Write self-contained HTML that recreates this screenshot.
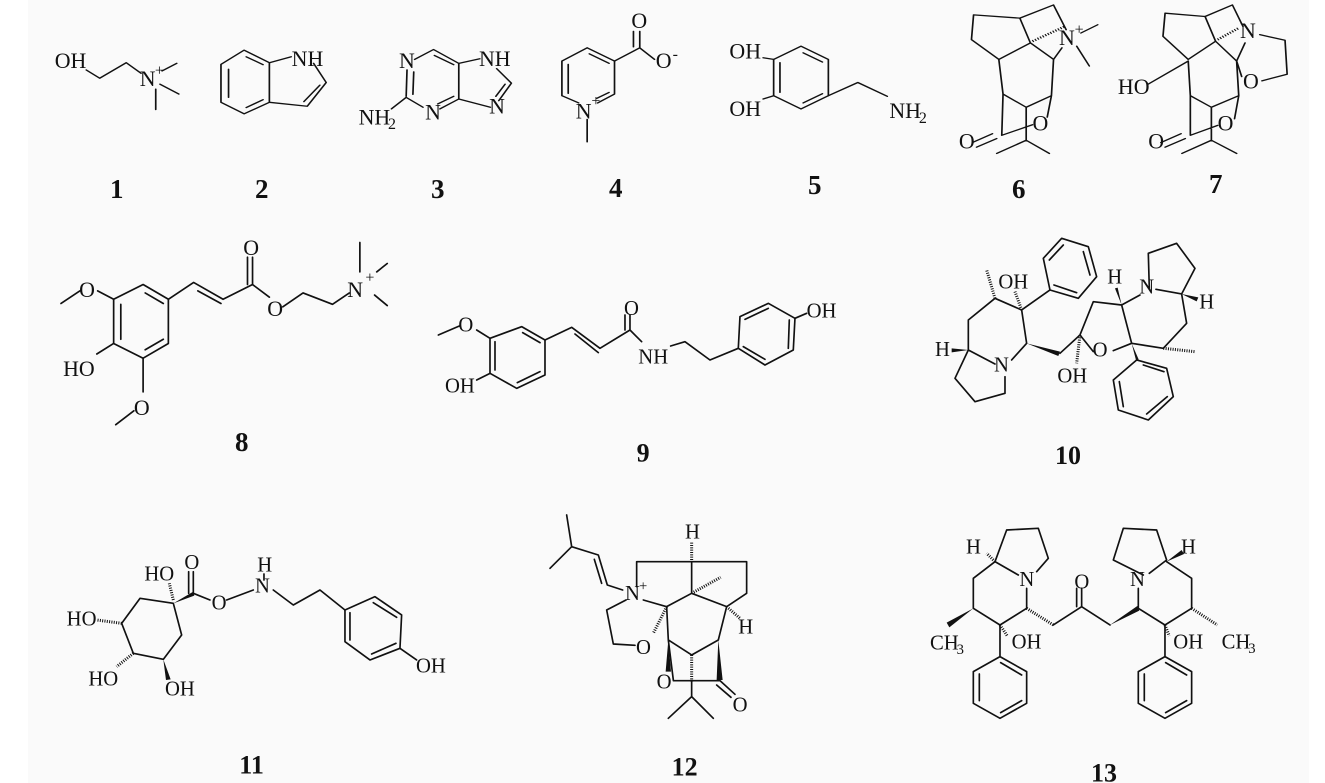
<!DOCTYPE html>
<html><head><meta charset="utf-8"><style>
html,body{margin:0;padding:0;background:#fff}
svg{display:block}
.b{stroke:#111;fill:none;stroke-linecap:round;stroke-linejoin:round}
.h{stroke:#111;fill:none;stroke-dasharray:3 4}
text{font-family:"Liberation Serif",serif;fill:#111}
.l{font-weight:bold}
</style></head><body>
<svg width="1325" height="783" viewBox="0 0 1325 783" xmlns="http://www.w3.org/2000/svg">
<rect x="0" y="0" width="1325" height="783" fill="#fff"/>
<rect x="28" y="0" width="1281" height="783" fill="#fafafa"/>

<!-- Row 1 left (zoom1 coords) -->
<g transform="scale(0.4209,0.33)">
<g class="b" stroke-width="4">
<path d="M205 212L237 237L300 190L335 222"/>
<path d="M385 215L420 192M380 255L425 285M370 270L370 332"/>
<path d="M580 152L640 190L640 310L580 345L525 310L525 195Z"/>
<path d="M543 210L543 295M585 172L625 196M585 326L625 302"/>
<path d="M640 190L692 172M745 192L775 250L730 322L640 310M760 258L722 308"/>
<path d="M967 212L965 292M983 218L981 286M965 295L930 330M965 295L1005 325M1045 330L1090 300M1040 315L1078 292M1090 300L1090 192L1030 150L985 180M1032 168L1078 196"/>
<path d="M1090 192L1140 178M1180 208L1215 252L1185 305M1200 255L1178 292M1165 325L1090 300"/>
<path d="M1395 145L1460 185L1460 285L1420 312M1375 312L1335 290L1335 185L1395 145"/>
<path d="M1350 195L1350 283M1400 163L1447 192M1447 280L1418 298"/>
<path d="M1460 185L1520 145L1520 95M1505 142L1505 95M1520 145L1555 180M1395 362L1395 430"/>
</g>
<g font-size="52" transform="scale(1,1.2755)">
<text x="130" y="162">OH</text>
<text x="332" y="204">N</text><text x="368" y="179" font-size="38">+</text>
<text x="693" y="157">NH</text>
<text x="948" y="162">N</text>
<text x="852" y="296">NH</text><text x="922" y="307" font-size="38">2</text>
<text x="1010" y="284">N</text>
<text x="1138" y="157">NH</text>
<text x="1162" y="270">N</text>
<text x="1368" y="281">N</text><text x="1405" y="252" font-size="38">+</text>
<text x="1500" y="67">O</text>
</g>
</g>

<!-- Row 1 right (zoom2 coords) -->
<g transform="translate(660,0) scale(0.4209,0.33)">
<g class="b" stroke-width="4">
<path d="M335 140L400 180L400 290L335 330L270 290L270 180Z"/>
<path d="M285 190L285 280M340 160L386 188M340 312L386 284"/>
<path d="M245 175L270 180M245 300L270 290M400 290L470 250L540 292"/>
<path d="M745 45L855 55L880 130L805 180L740 120Z"/>
<path d="M855 55L935 15L965 90M1000 100L1040 75M990 140L1020 200"/>
<path d="M880 130L935 180L955 145M805 180L815 285M935 180L930 290M815 285L870 325L930 290M815 285L812 410L885 378M930 290L920 355M870 325L870 425L800 465M870 425L925 465M790 405L742 432M800 420L752 446"/>
<path d="M1200 40L1295 50L1320 125L1255 180L1195 110Z"/>
<path d="M1295 50L1360 15L1385 80M1425 105L1485 122L1490 225L1430 245"/>
<path d="M1320 125L1370 185L1390 130M1370 185L1382 232M1160 255L1255 185M1255 185L1260 290M1370 185L1375 290M1260 290L1310 325L1375 290M1260 290L1260 410L1325 380M1375 290L1365 360M1310 325L1310 425L1240 465M1310 425L1370 465M1238 405L1190 432M1248 420L1200 446"/>
</g>
<g class="h" stroke-width="7"><path d="M885 125L962 80M1325 120L1375 85"/></g>
<g font-size="52" transform="scale(1,1.2755)">
<text x="-10" y="161">O</text><text x="30" y="140" font-size="38">-</text>
<text x="165" y="139">OH</text><text x="165" y="276">OH</text>
<text x="545" y="280">NH</text><text x="615" y="292" font-size="38">2</text>
<text x="948" y="107">N</text><text x="985" y="82" font-size="38">+</text>
<text x="710" y="353">O</text><text x="885" y="310">O</text>
<text x="1378" y="90">N</text><text x="1385" y="210">O</text>
<text x="1088" y="223">HO</text>
<text x="1160" y="353">O</text><text x="1325" y="310">O</text>
</g>
</g>

<g class="l" font-size="27">
<text x="110" y="198">1</text><text x="255" y="198">2</text><text x="431" y="198">3</text><text x="609" y="197">4</text>
<text x="808" y="194">5</text><text x="1012" y="198">6</text><text x="1209" y="193">7</text>
<text x="235" y="451">8</text>
</g>

<!-- Compound 8 -->
<g transform="translate(0,173) scale(0.4209)">
<g class="b" stroke-width="4">
<path d="M340 265L400 300L400 405L340 440L270 405L270 300Z"/>
<path d="M287 312L287 395M345 285L388 310M345 420L388 395"/>
<path d="M270 300L232 280M190 280L145 310M270 405L230 430M340 440L340 520M318 565L275 598"/>
<path d="M400 300L460 260L530 300L600 265L600 200M470 280L525 310M588 265L588 200M600 265L640 295M672 318L720 285L790 312L830 285"/>
<path d="M855 235L855 165M895 235L920 215M890 290L920 315"/>
</g>
<g font-size="52">
<text x="188" y="295">O</text><text x="150" y="482">HO</text><text x="318" y="575">O</text>
<text x="578" y="195">O</text><text x="635" y="340">O</text>
<text x="825" y="295">N</text><text x="868" y="260" font-size="38">+</text>
</g>
</g>

<!-- Compound 9 -->
<g transform="translate(420,220) scale(0.3333)">
<g class="b" stroke-width="5">
<path d="M305 320L375 360L375 465L290 505L210 460L210 355Z"/>
<path d="M225 365L225 450M308 338L360 368M292 488L360 455"/>
<path d="M210 355L170 330M118 318L55 345M210 460L170 480"/>
<path d="M375 360L455 322L540 385L630 330L630 285M465 342L535 398M615 330L615 285M630 330L665 365M752 378L795 365L870 420L955 385"/>
<path d="M960 290L1045 250L1125 295L1120 390L1035 435L955 385Z"/>
<path d="M975 298L1045 265M1108 300L1105 385M970 380L1035 418"/>
<path d="M1125 295L1160 280"/>
</g>
<g font-size="62">
<text x="115" y="335">O</text><text x="75" y="517">OH</text>
<text x="612" y="285">O</text><text x="655" y="430">NH</text>
<text x="1160" y="292">OH</text>
</g>
<text class="l" font-size="78" x="650" y="725">9</text>
</g>

<!-- Compound 10 -->
<g transform="translate(880,220) scale(0.3333)">
<g class="b" stroke-width="5">
<path d="M345 235L265 300L265 390M345 235L425 270L440 370L395 420M345 432L265 390M265 390L225 475L285 545L375 520L375 470"/>
<path d="M425 270L510 210M510 210L490 115L545 55L625 80L650 170L595 235Z M508 120L550 75M610 95L630 165M590 218L522 195"/>
<path d="M540 400L600 345L640 245L725 255L755 370L700 392M600 345L640 395M725 255L780 225M808 205L805 100L890 70L945 145L905 222L828 208M905 222L920 310L850 385L755 370"/>
<path d="M770 420L860 445L880 530L805 600L715 570L700 480Z M790 435L852 455M862 530L800 582M718 485L730 560"/>
</g>
<g fill="#111">
<polygon points="440,370 540,395 535,408"/>
<polygon points="755,370 768,420 776,418"/>
<polygon points="265,390 215,385 215,397"/>
<polygon points="725,255 705,205 713,203"/>
<polygon points="905,222 955,232 950,244"/>
</g>
<g class="h" stroke-width="9"><path d="M345 235L320 150M425 270L405 215M600 345L590 430M850 385L945 395"/></g>
<g font-size="62">
<text x="355" y="205">OH</text><text x="165" y="408">H</text><text x="342" y="455">N</text>
<text x="532" y="487">OH</text><text x="638" y="410">O</text>
<text x="682" y="190">H</text><text x="778" y="220">N</text><text x="958" y="265">H</text>
</g>
<text class="l" font-size="78" x="525" y="732">10</text>
</g>

<!-- Compound 11 -->
<g transform="translate(0,500) scale(0.3333)">
<g class="b" stroke-width="5">
<path d="M520 310L420 295L365 370L400 460L490 478L545 405Z"/>
<path d="M580 280L580 215M566 280L566 215M580 280L630 300M680 300L760 270M792 222L792 240M820 270L880 315L960 270L1035 330"/>
<path d="M1035 330L1125 290L1205 345L1200 445L1110 480L1035 425Z M1050 338L1050 420M1120 308L1190 352M1115 462L1188 430"/>
<path d="M1200 445L1250 480"/>
</g>
<g fill="#111">
<polygon points="520,310 580,275 583,287"/>
<polygon points="490,478 498,540 512,538"/>
</g>
<g class="h" stroke-width="9"><path d="M520 300L508 250M365 370L290 360M400 460L350 500"/></g>
<g font-size="62">
<text x="433" y="242">HO</text><text x="553" y="207">O</text><text x="635" y="328">O</text>
<text x="772" y="215">H</text><text x="765" y="277">N</text>
<text x="200" y="377">HO</text><text x="265" y="557">HO</text><text x="495" y="587">OH</text>
<text x="1248" y="517">OH</text>
</g>
<text class="l" font-size="78" x="718" y="820">11</text>
</g>

<!-- Compound 12 -->
<g transform="translate(500,500) scale(0.3333)">
<g class="b" stroke-width="5">
<path d="M200 45L215 140L150 205M215 140L295 165L322 255L368 270M283 178L305 250"/>
<path d="M410 260L410 185L575 185L740 185L740 280L680 320L575 280L575 185M575 280L500 320L430 300"/>
<path d="M378 300L320 330L340 432L405 436"/>
<path d="M500 320L505 420L575 465L655 420L680 320M505 420L520 540M520 542L660 542L705 583M650 555L693 592M575 545L575 590L505 655M575 590L640 655"/>
</g>
<g fill="#111">
<polygon points="505,420 497,515 513,515"/>
<polygon points="655,420 650,540 668,540"/>
</g>
<g class="h" stroke-width="9"><path d="M575 180L575 125M575 280L662 232M680 320L720 355M500 320L460 400M575 465L575 545"/></g>
<g font-size="62">
<text x="555" y="115">H</text><text x="375" y="300">N</text><text x="417" y="272" font-size="44">+</text>
<text x="715" y="400">H</text><text x="408" y="462">O</text><text x="470" y="566">O</text><text x="698" y="635">O</text>
</g>
<text class="l" font-size="78" x="515" y="826">12</text>
</g>

<!-- Compound 13 -->
<g transform="translate(880,500) scale(0.3333)">
<g class="b" stroke-width="5">
<path d="M345 185L380 90L475 85L505 175L470 215M345 185L415 225M345 185L280 235L280 325L360 375L440 325L440 265"/>
<path d="M360 375L360 470M360 470L440 515L440 610L360 655L280 610L280 515Z M298 522L298 602M362 638L425 602M362 488L425 525"/>
<path d="M520 375L605 320L605 265M590 320L590 265M605 320L690 375"/>
<path d="M790 225L700 180L730 85L830 90L860 180L808 220M775 265L775 325L855 375L935 325L935 235L860 185"/>
<path d="M855 375L855 470M855 470L935 515L935 610L855 655L775 610L775 515Z M793 522L793 602M857 638L920 602M857 488L920 525"/>
</g>
<g fill="#111">
<polygon points="280,325 200,368 208,382"/>
<polygon points="690,375 772,318 778,332"/>
<polygon points="860,185 905,150 912,162"/>
</g>
<g class="h" stroke-width="9"><path d="M345 185L320 160M440 325L520 375M935 325L1012 375M360 375L382 408M855 375L868 408"/></g>
<g font-size="62">
<text x="258" y="160">H</text><text x="418" y="258">N</text><text x="583" y="265">O</text>
<text x="150" y="448">CH</text><text x="230" y="462" font-size="44">3</text>
<text x="395" y="445">OH</text>
<text x="750" y="258">N</text><text x="903" y="160">H</text>
<text x="880" y="445">OH</text>
<text x="1025" y="445">CH</text><text x="1105" y="459" font-size="44">3</text>
</g>
<text class="l" font-size="78" x="633" y="845">13</text>
</g>
</svg>
</body></html>
